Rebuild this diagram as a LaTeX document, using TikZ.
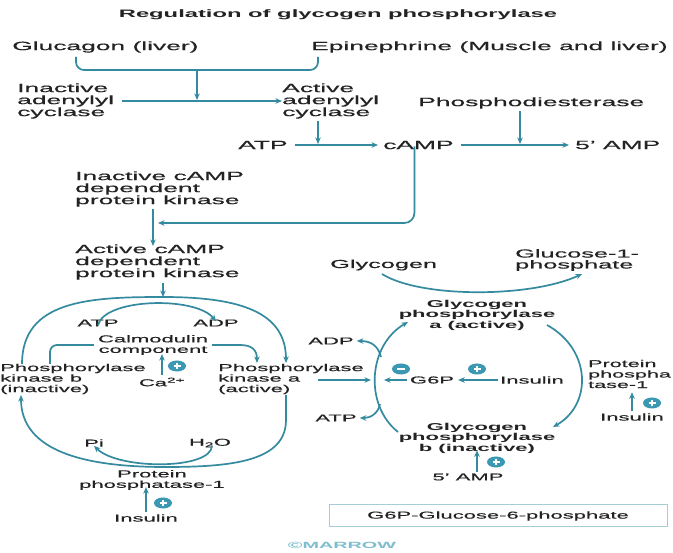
\documentclass[tikz,border=0pt]{standalone}
\usepackage{fontspec}
\setmainfont{Liberation Sans}[FakeStretch=2.2, UprightFeatures={FakeBold=0.5}]
\usetikzlibrary{arrows.meta}
\definecolor{ink}{RGB}{35,35,35}
\definecolor{flow}{RGB}{52,138,158}
\definecolor{sig}{RGB}{58,152,178}
\definecolor{boxline}{RGB}{165,205,214}
\definecolor{wmark}{RGB}{125,190,206}

\begin{document}
\begin{tikzpicture}[x=1pt,y=-1pt,
  big/.style={font=\fontsize{12}{12}\selectfont,text=ink,inner sep=0pt,align=left},
  mid/.style={font=\fontsize{11.5}{11}\selectfont,text=ink,inner sep=0pt,align=left},
  small/.style={font=\fontsize{10}{10.5}\selectfont,text=ink,inner sep=0pt,align=left},
  heavy/.style={font=\bfseries\fontsize{10}{10.5}\selectfont,text=ink,inner sep=0pt,align=center},
  flowline/.style={draw=flow,line width=1.7pt},
  arr/.style={flowline,-{Stealth[length=6.5pt,width=5.5pt]}},
  plussign/.pic={\fill[sig] (0,0) ellipse [x radius=9pt, y radius=5.5pt];
    \draw[white,line width=1.3pt] (-3.5,0)--(3.5,0) (0,-2.6)--(0,2.6);},
  minussign/.pic={\fill[sig] (0,0) ellipse [x radius=9pt, y radius=5.5pt];
    \draw[white,line width=1.3pt] (-4,0)--(4,0);}]

\fill[white] (0,0) rectangle (673,553);
\useasboundingbox (0,0) rectangle (673,553);

% ---------- cAMP cascade ----------
\node[font=\bfseries\fontsize{10.8}{11}\selectfont,text=ink,inner sep=0pt] (title) at (338,15) {Regulation of glycogen phosphorylase};

\node[big,anchor=west] (gluc) at (12,47) {Glucagon (liver)};
\node[big,anchor=west] (epi) at (311,47) {Epinephrine (Muscle and liver)};

\coordinate (brL) at (76,57);
\coordinate (brR) at (318,57);
\coordinate (brM) at (197,70);
\coordinate (acJ) at (197,100);
\draw[flowline,rounded corners=8pt] (brL) -- (brL |- brM) -- (brR |- brM) -- (brR);

\node[big,anchor=west] (iac) at (17,101) {Inactive\\adenylyl\\cyclase};
\node[big,anchor=west] (aac) at (282,101) {Active\\adenylyl\\cyclase};
\node[big,anchor=west] (pde) at (418,103) {Phosphodiesterase};

\draw[arr] (iac.east) ++(8,0) -- (aac.west);
\draw[arr] (brM) -- (acJ);

\node[big,anchor=west] (atp1) at (238,145) {ATP};
\node[big,anchor=west] (camp) at (383,145) {cAMP};
\node[big,anchor=west] (amp5) at (575,145) {5' AMP};

\coordinate (cJ) at (318,144);
\coordinate (pJ) at (520,144);
\draw[arr] (atp1.east) ++(7,0) -- ([xshift=-5pt]camp.west);
\draw[arr] ([xshift=7pt]camp.east) -- ([xshift=-6pt]amp5.west);
\draw[arr] (aac.south -| cJ) ++(0,2) -- (cJ);
\draw[arr] (pde.south -| pJ) ++(0,2) -- (pJ);

\node[big,anchor=west] (ick) at (75,189) {Inactive cAMP\\dependent\\protein kinase};
\node[big,anchor=west] (ack) at (75,262) {Active cAMP\\dependent\\protein kinase};

\coordinate (kJ) at (158,223);
\draw[arr,rounded corners=10pt] ([xshift=-4pt,yshift=3pt]camp.south) -- ([xshift=-4pt]camp.south |- kJ) -- (kJ);
\draw[arr] (ick.south -| 153,0) ++(0,2) -- (153,246);

% ---------- phosphorylase kinase cycle ----------
\coordinate (ctop) at (163,297);
\draw[arr] (ack.south -| ctop) ++(0,3) -- (ctop);

\node[small,anchor=west] (pkb) at (0,379) {Phosphorylase\\kinase b\\(inactive)};
\node[small,anchor=west] (pka) at (218,379) {Phosphorylase\\kinase a\\(active)};

\coordinate (pkbUp) at (22,364);
\coordinate (pkaUp) at (286,363);
\coordinate (pkbDn) at (21,395);
\coordinate (pkaDn) at (286,395);
\draw[arr] (pkbUp) .. controls (22,300) and (90,297) .. (ctop)
  .. controls (240,297) and (286,312) .. (pkaUp);
\draw[arr] (pkaDn) -- (286,420) .. controls (286,462) and (230,467) .. (165,467)
  .. controls (60,467) and (21,440) .. (pkbDn);

\node[small] (atp2) at (98,323) {ATP};
\node[small] (adp2) at (216,323) {ADP};
\draw[arr] ([yshift=-6pt]atp2.north) .. controls (104,298) and (196,296) .. ([yshift=-2pt]adp2.north);

\node[small,align=center] (cal) at (153,345) {Calmodulin\\component};
\coordinate (calL) at (50,364);
\coordinate (calR) at (257,363);
\draw[flowline,rounded corners=7pt] ([xshift=-4pt]cal.west) -- (calL |- cal.west) -- (calL);
\draw[arr] ([xshift=4pt]cal.east) -- (240,345) .. controls (252,345) and (257,350) .. (calR);

\node[small] (ca) at (162,382) {Ca\textsuperscript{2+}};
\draw[arr] (ca.north) ++(0,-2) -- ([yshift=1pt]cal.south -| ca.north);
\pic at (177,366) {plussign};

\node[small] (pi) at (94,443) {Pi};
\node[small] (h2o) at (210,443) {H\textsubscript{2}O};
\draw[arr] ([xshift=2pt,yshift=2pt]h2o.south) .. controls (212,470) and (118,470) .. ([yshift=1pt]pi.south);

\node[small,align=center] (pp1) at (152,480) {Protein\\phosphatase-1};
\node[small] (ins1) at (146,518) {Insulin};
\draw[arr] (ins1.north) ++(0,-2) -- ([yshift=3pt]pp1.south -| ins1.north);
\pic at (163,503) {plussign};

% ---------- glycogen phosphorylase cycle ----------
\node[mid,anchor=west] (glyc) at (330,265) {Glycogen};
\node[mid,anchor=west] (g1p) at (515,260) {Glucose-1-\\phosphate};
\draw[arr] (382,274) .. controls (420,298) and (530,298) .. (582,274);

\node[heavy] (gpa) at (477,315) {Glycogen\\phosphorylase\\a (active)};
\node[heavy] (gpb) at (477,438) {Glycogen\\phosphorylase\\b (inactive)};

\coordinate (lbot) at (398,432);
\coordinate (ltop) at (408,322);
\coordinate (rtop) at (547,325);
\coordinate (rbot) at (553,427);
\draw[arr] (lbot) .. controls (364,405) and (368,345) .. (ltop);
\draw[arr] (rtop) .. controls (592,350) and (592,405) .. (rbot);

\node[small] (adp3) at (331,341) {ADP};
\node[small] (atp3) at (336,418) {ATP};
\draw[arr] (381,357) .. controls (378,345) and (370,341) .. ([xshift=3pt]adp3.east);
\draw[arr] (380,404) .. controls (378,414) and (370,418) .. ([xshift=3pt]atp3.east);

\coordinate (pkaOut) at (318,380);
\coordinate (cycL) at (371,380);
\draw[arr] (pkaOut) -- (cycL);

\node[small] (g6p) at (432,380) {G6P};
\node[small,anchor=west] (ins2) at (500,380) {Insulin};
\draw[arr] ([xshift=-3pt]g6p.west) -- (384,380);
\draw[arr] ([xshift=-2pt]ins2.west) -- ([xshift=4pt]g6p.east);
\pic at (401,369) {minussign};
\pic at (477,369) {plussign};

\node[small] (amp5b) at (468,477) {5' AMP};
\draw[arr] (477,472) -- ([yshift=3pt]gpb.south -| 477,0);
\pic at (496,462) {plussign};

\node[small,anchor=west,font=\fontsize{9.8}{10.5}\selectfont] (pp1r) at (588,374) {Protein\\phospha\\tase-1};
\node[small] (ins3) at (632,417) {Insulin};
\draw[arr] (ins3.north) ++(0,-2) -- ([yshift=-4pt]pp1r.south -| ins3.north);
\pic at (652,403) {plussign};

% ---------- legend ----------
\node[draw=boxline,line width=1pt,minimum width=338pt,minimum height=22pt,inner sep=0pt,
      font=\fontsize{10}{10}\selectfont,text=ink] (legend) at (498,516) {G6P-Glucose-6-phosphate};
\node[font=\bfseries\fontsize{9}{9}\selectfont,text=wmark,inner sep=0pt] (wm) at (342,545) {©MARROW};
\end{tikzpicture}
\end{document}
